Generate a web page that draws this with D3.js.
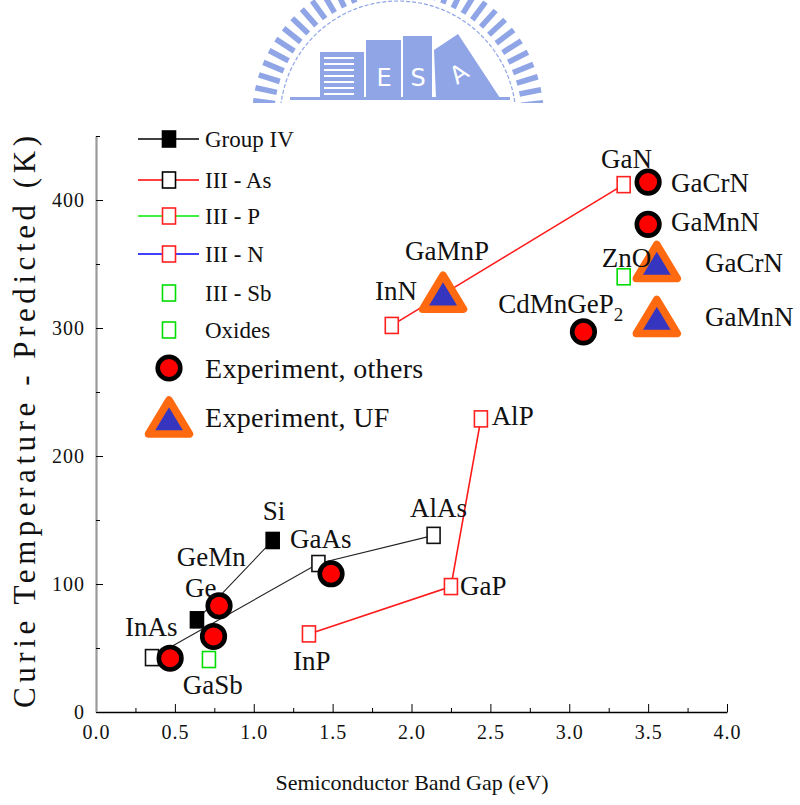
<!DOCTYPE html>
<html>
  <head>
    <style>
      body {
        margin: 0;
        background: #fff;
      }
      svg text {
        font-family: "Times New Roman", "Liberation Serif", Times, serif;
        fill: #111;
      }
    </style>
    <script src="https://d3js.org/d3.v7.min.js"></script>
  </head>
  <body>
    <script>
      // predicted Tc vs band gap
      const groupIV = [
        { name: "Ge", gap: 0.64, tc: 72 },
        { name: "Si", gap: 1.12, tc: 134 },
      ];
      const iiiAs = [
        { name: "InAs", gap: 0.355, tc: 42.5 },
        { name: "GaAs", gap: 1.41, tc: 116 },
        { name: "AlAs", gap: 2.14, tc: 138 },
      ];
      const iiiP = [
        { name: "InP", gap: 1.35, tc: 61 },
        { name: "GaP", gap: 2.25, tc: 98 },
        { name: "AlP", gap: 2.44, tc: 229 },
      ];
      const iiiN = [
        { name: "InN", gap: 1.875, tc: 302 },
        { name: "GaN", gap: 3.345, tc: 412 },
      ];
      const iiiSb = [{ name: "GaSb", gap: 0.716, tc: 41 }];
      const oxides = [{ name: "ZnO", gap: 3.345, tc: 340 }];

      // experimental points
      const expOthers = [
        { name: "InAs", gap: 0.47, tc: 42 },
        { name: "GaSb", gap: 0.745, tc: 59 },
        { name: "GeMn", gap: 0.78, tc: 83 },
        { name: "GaAs", gap: 1.49, tc: 108 },
        { name: "CdMnGeP2", gap: 3.09, tc: 297 },
        { name: "GaCrN", gap: 3.5, tc: 414 },
        { name: "GaMnN", gap: 3.5, tc: 381 },
      ];
      const expUF = [
        { name: "GaMnP", gap: 2.2, tc: 328 },
        { name: "GaCrN", gap: 3.555, tc: 352 },
        { name: "GaMnN", gap: 3.555, tc: 309 },
      ];

      // annotation anchors (data units, left / baseline of the text)
      const pointLabels = [
        { text: "InAs", gap: 0.184, tc: 59 },
        { text: "GaSb", gap: 0.55, tc: 14 },
        { text: "Ge", gap: 0.564, tc: 90 },
        { text: "GeMn", gap: 0.512, tc: 114 },
        { text: "Si", gap: 1.057, tc: 150 },
        { text: "GaAs", gap: 1.23, tc: 128 },
        { text: "AlAs", gap: 1.99, tc: 152 },
        { text: "GaP", gap: 2.307, tc: 91.5 },
        { text: "InP", gap: 1.249, tc: 33 },
        { text: "AlP", gap: 2.508, tc: 224 },
        { text: "GaN", gap: 3.201, tc: 425 },
        { text: "GaCrN", gap: 3.645, tc: 406 },
        { text: "GaMnN", gap: 3.645, tc: 376 },
        { text: "ZnO", gap: 3.206, tc: 348 },
        { text: "GaCrN", gap: 3.86, tc: 344 },
        { text: "GaMnN", gap: 3.86, tc: 301.5 },
        { text: "GaMnP", gap: 1.959, tc: 353 },
        { text: "InN", gap: 1.769, tc: 322 },
        { text: "CdMnGeP", sub: "2", gap: 2.55, tc: 312 },
      ];

      const xMajor = [0, 0.5, 1, 1.5, 2, 2.5, 3, 3.5, 4];
      const xMinor = [0.25, 0.75, 1.25, 1.75, 2.25, 2.75, 3.25, 3.75];
      const yMajor = [0, 100, 200, 300, 400];
      const yMinor = [50, 150, 250, 350, 450];

      const legendItems = [
        { label: "Group IV", kind: "filled", line: "#000" },
        { label: "III - As", kind: "open", line: "#ff0000", edge: "#000" },
        { label: "III - P", kind: "open", line: "#00ee00", edge: "#ff2020" },
        { label: "III - N", kind: "open", line: "#0000ff", edge: "#ff2020" },
        { label: "III - Sb", kind: "open", edge: "#00dd00" },
        { label: "Oxides", kind: "open", edge: "#00dd00" },
        { label: "Experiment, others", kind: "circle" },
        { label: "Experiment, UF", kind: "triangle" },
      ];

      const width = 800;
      const height = 805;

      const svg = d3
        .select("body")
        .append("svg")
        .attr("width", width)
        .attr("height", height);

      // ---- watermark logo at the top ----
      const logoBlue = "#8fa5e6";
      svg
        .append("clipPath")
        .attr("id", "logoclip")
        .append("rect")
        .attr("x", 0)
        .attr("y", 0)
        .attr("width", width)
        .attr("height", 103);
      const logo = svg.append("g").attr("clip-path", "url(#logoclip)");
      const cx = 398,
        cy = 119;
      d3.range(-178, 2, 5.2).forEach((a) => {
        logo
          .append("rect")
          .attr("x", 124)
          .attr("y", -2.8)
          .attr("width", 22)
          .attr("height", 5.6)
          .attr("fill", logoBlue)
          .attr("transform", `translate(${cx},${cy}) rotate(${a})`);
      });
      logo
        .append("circle")
        .attr("cx", cx)
        .attr("cy", cy)
        .attr("r", 118)
        .attr("fill", "none")
        .attr("stroke", logoBlue)
        .attr("stroke-width", 1.2)
        .attr("stroke-dasharray", "4,2");
      // buildings
      logo.append("rect").attr("x", 320).attr("y", 52).attr("width", 44).attr("height", 46).attr("fill", logoBlue);
      d3.range(57, 96, 6).forEach((yy) => {
        logo.append("rect").attr("x", 324).attr("y", yy).attr("width", 30).attr("height", 2).attr("fill", "#fff");
      });
      logo.append("rect").attr("x", 366).attr("y", 40).attr("width", 35).attr("height", 58).attr("fill", logoBlue);
      logo.append("rect").attr("x", 403).attr("y", 36).attr("width", 29).attr("height", 62).attr("fill", logoBlue);
      logo
        .append("path")
        .attr("d", "M434,50 L458,34 L500,98 L436,98 Z")
        .attr("fill", logoBlue);
      logo.append("rect").attr("x", 290).attr("y", 97).attr("width", 220).attr("height", 3).attr("fill", logoBlue);
      [
        ["E", 384, 86, 0],
        ["S", 418, 86, 0],
        ["A", 458, 82, -35],
      ].forEach(([t, tx, ty, r]) => {
        logo
          .append("text")
          .attr("x", tx)
          .attr("y", ty)
          .attr("text-anchor", "middle")
          .attr("transform", `rotate(${r},${tx},${ty - 10})`)
          .style("font-family", "DejaVu Sans")
          .style("font-size", "24px")
          .style("fill", "#fff")
          .text(t);
      });

      // ---- scales & axes ----
      const x = d3.scaleLinear().domain([0, 4]).range([96, 727]);
      const y = d3.scaleLinear().domain([0, 450]).range([712, 136]);

      const xAxis = svg
        .append("g")
        .attr("transform", "translate(0,712)")
        .call(
          d3
            .axisBottom(x)
            .tickValues(xMajor)
            .tickSize(-8)
            .tickSizeOuter(0)
            .tickPadding(13)
            .tickFormat(d3.format(".1f"))
        );
      xAxis.select(".domain").attr("stroke", "#000").attr("stroke-width", 1.6);
      xAxis
        .selectAll("text")
        .style("font-family", '"Times New Roman", "Liberation Serif", serif')
        .style("font-size", "20px")
        .style("letter-spacing", "1px");
      svg
        .append("g")
        .attr("transform", "translate(0,712)")
        .call(d3.axisBottom(x).tickValues(xMinor).tickSize(-4).tickFormat(""))
        .select(".domain")
        .remove();

      const yAxis = svg
        .append("g")
        .attr("transform", "translate(96,0)")
        .call(
          d3
            .axisLeft(y)
            .tickValues(yMajor)
            .tickSize(-7)
            .tickSizeOuter(0)
            .tickPadding(11)
        );
      yAxis.select(".domain").attr("stroke", "#999").attr("stroke-width", 2.2);
      yAxis
        .selectAll("text")
        .style("font-family", '"Times New Roman", "Liberation Serif", serif')
        .style("font-size", "20px")
        .style("letter-spacing", "1px");
      svg
        .append("g")
        .attr("transform", "translate(96,0)")
        .call(d3.axisLeft(y).tickValues(yMinor).tickSize(-4).tickFormat(""))
        .select(".domain")
        .remove();

      svg
        .append("text")
        .attr("x", 412)
        .attr("y", 790)
        .attr("text-anchor", "middle")
        .style("font-size", "22px")
        .text("Semiconductor Band Gap (eV)");

      svg
        .append("text")
        .attr("transform", "translate(35,422) rotate(-90)")
        .attr("text-anchor", "middle")
        .attr("textLength", 572)
        .attr("lengthAdjust", "spacing")
        .style("font-size", "31px")
        .text("Curie Temperature - Predicted (K)");

      // ---- connecting lines ----
      const line = d3
        .line()
        .x((d) => x(d.gap))
        .y((d) => y(d.tc));
      [
        [groupIV, "#222", 1.1],
        [iiiAs, "#222", 1.1],
        [iiiP, "#ff1a1a", 1.6],
        [iiiN, "#ff1a1a", 1.6],
      ].forEach(([data, col, w]) => {
        svg
          .append("path")
          .datum(data)
          .attr("d", line)
          .attr("fill", "none")
          .attr("stroke", col)
          .attr("stroke-width", w);
      });

      // ---- square markers ----
      const sqW = 13,
        sqH = 16;
      function squares(data, fill, edge) {
        svg
          .append("g")
          .selectAll("rect")
          .data(data)
          .join("rect")
          .attr("x", (d) => x(d.gap) - sqW / 2)
          .attr("y", (d) => y(d.tc) - sqH / 2)
          .attr("width", sqW)
          .attr("height", sqH)
          .attr("fill", fill)
          .attr("stroke", edge)
          .attr("stroke-width", 1.6);
      }
      squares(groupIV, "#000", "#000");
      squares(iiiAs, "#fff", "#111");
      squares(iiiP, "#fff", "#ff2020");
      squares(iiiN, "#fff", "#ff2020");
      squares(iiiSb, "#fff", "#00dd00");
      squares(oxides, "#fff", "#00dd00");

      // ---- experiment markers ----
      svg
        .append("g")
        .selectAll("circle")
        .data(expOthers)
        .join("circle")
        .attr("cx", (d) => x(d.gap))
        .attr("cy", (d) => y(d.tc))
        .attr("r", 11.3)
        .attr("fill", "#ff0000")
        .attr("stroke", "#000")
        .attr("stroke-width", 4.6);

      const triW = 41,
        triH = 34;
      const triPath = `M0,${-triH / 2} L${triW / 2},${triH / 2} L${-triW / 2},${triH / 2} Z`;
      svg
        .append("g")
        .selectAll("path")
        .data(expUF)
        .join("path")
        .attr("d", triPath)
        .attr("transform", (d) => `translate(${x(d.gap)},${y(d.tc)})`)
        .attr("fill", "#3535c0")
        .attr("stroke", "#ff6a10")
        .attr("stroke-width", 7.5)
        .attr("stroke-linejoin", "round");

      // ---- point labels ----
      const lbl = svg
        .append("g")
        .selectAll("text")
        .data(pointLabels)
        .join("text")
        .attr("x", (d) => x(d.gap))
        .attr("y", (d) => y(d.tc))
        .style("font-size", "27px")
        .text((d) => d.text);
      lbl
        .filter((d) => d.sub)
        .append("tspan")
        .attr("dy", 8)
        .style("font-size", "19px")
        .text((d) => d.sub);

      // ---- legend ----
      const legTop = 139;
      const legStep = [0, 41, 77, 115, 154, 191, 229, 278];
      const leg = svg
        .append("g")
        .selectAll("g")
        .data(legendItems)
        .join("g")
        .attr("transform", (d, i) => `translate(169,${legTop + legStep[i]})`);
      leg
        .filter((d) => d.line)
        .append("line")
        .attr("x1", -31)
        .attr("x2", 30)
        .attr("stroke", (d) => d.line)
        .attr("stroke-width", 1.4);
      leg
        .filter((d) => d.kind === "filled" || d.kind === "open")
        .append("rect")
        .attr("x", -sqW / 2)
        .attr("y", -sqH / 2)
        .attr("width", sqW)
        .attr("height", sqH)
        .attr("fill", (d) => (d.kind === "filled" ? "#000" : "#fff"))
        .attr("stroke", (d) => d.edge || "#000")
        .attr("stroke-width", 1.6);
      leg
        .filter((d) => d.kind === "circle")
        .append("circle")
        .attr("r", 11.3)
        .attr("fill", "#ff0000")
        .attr("stroke", "#000")
        .attr("stroke-width", 4.6);
      leg
        .filter((d) => d.kind === "triangle")
        .append("path")
        .attr("d", triPath)
        .attr("fill", "#3535c0")
        .attr("stroke", "#ff6a10")
        .attr("stroke-width", 7.5)
        .attr("stroke-linejoin", "round");
      leg
        .append("text")
        .attr("x", 36)
        .attr("dy", "0.35em")
        .style("font-size", (d, i) => (i < 6 ? "23px" : "28px"))
        .style("letter-spacing", (d, i) => (i < 6 ? "0px" : "0.3px"))
        .text((d) => d.label);
    </script>
  </body>
</html>
